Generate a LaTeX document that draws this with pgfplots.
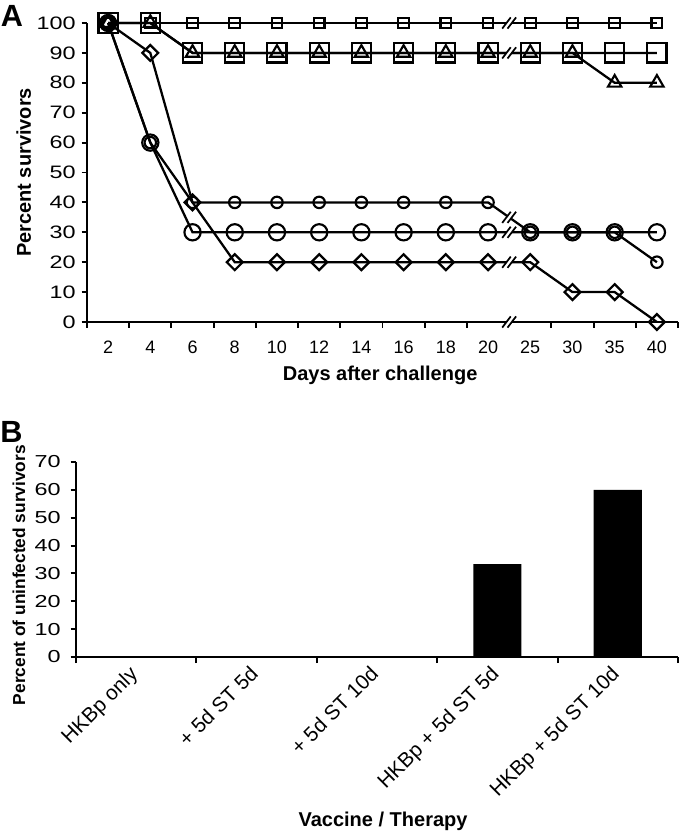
\documentclass[border=0pt]{standalone}
\usepackage{fontspec}
\setmainfont{Liberation Sans}
\usepackage{graphicx}
\usepackage{pgfplots}
\pgfplotsset{compat=1.18}
\usepackage{pgfplotstable}

% survival, days 2..40 at positions 0..13
\pgfplotstableread{
idx S1  S2  S3  S4  S5  S6
0   100 100 100 100 100 100
1   100 100 100 90  60  60
2   100 90  90  40  40  30
3   100 90  90  20  40  30
4   100 90  90  20  40  30
5   100 90  90  20  40  30
6   100 90  90  20  40  30
7   100 90  90  20  40  30
8   100 90  90  20  40  30
9   100 90  90  20  40  30
10  100 90  90  20  30  30
11  100 90  90  10  30  30
12  100 90  80  10  30  30
13  100 90  80  0   20  30
}\survival

\pgfplotstableread{
idx val
0   0
1   0
2   0
3   33.3
4   60
}\uninfected

% axis break "//"
\newcommand{\brk}[2]{%
  \fill[white] ([shift={(-5.2pt,-4.2pt)}]axis cs:#1,#2) -- ([shift={(1.2pt,4.2pt)}]axis cs:#1,#2)
     -- ([shift={(5.2pt,4.2pt)}]axis cs:#1,#2) -- ([shift={(-1.2pt,-4.2pt)}]axis cs:#1,#2) -- cycle;
  \draw[line width=1.3pt] ([shift={(-5.2pt,-4.2pt)}]axis cs:#1,#2) -- ([shift={(1.2pt,4.2pt)}]axis cs:#1,#2);
  \draw[line width=1.3pt] ([shift={(-1.2pt,-4.2pt)}]axis cs:#1,#2) -- ([shift={(5.2pt,4.2pt)}]axis cs:#1,#2);
}

\pgfplotsset{
  /pgf/number format/assume math mode=true,
  every axis/.append style={
    scale only axis, clip=false,
    axis lines*=left,
    axis line style={line width=1.6pt},
    tick align=outside,
    major tick length=4pt, minor tick length=4.5pt,
    every tick/.style={black, line width=1.4pt},
    major x tick style={draw=none},
  },
  ser/.style={black, line width=1.7pt, every mark/.append style={solid, line width=1.6pt}},
}

\begin{document}
\begin{tikzpicture}
\useasboundingbox (0,0) rectangle (510pt,624.75pt);

% ---- A ----
\begin{axis}[
  at={(65.25pt,383.25pt)}, anchor=south west,
  width=443.25pt, height=224.25pt,
  xmin=-0.5, xmax=13.5, ymin=0, ymax=100,
  xtick={0,...,13},
  xticklabels={2,4,6,8,10,12,14,16,18,20,25,30,35,40},
  minor xtick={-0.5,0.5,...,8.5,10.5,11.5,12.5,13.5},
  ytick={0,10,...,100},
  yticklabel={\scalebox{1.3}[1]{\pgfmathprintnumber{\tick}}},
  x tick label style={font=\fontsize{13.5}{16}\selectfont, yshift=-7pt},
  y tick label style={font=\fontsize{13.5}{16}\selectfont, xshift=-1pt},
  xlabel={\bfseries Days after challenge},
  ylabel={\bfseries Percent survivors},
  xlabel style={font=\fontsize{15}{18}\selectfont, at={(axis description cs:0.496,-0.177)}, anchor=center},
  ylabel style={font=\fontsize{15}{18}\selectfont, at={(axis description cs:-0.107,0.5)}, anchor=center},
]
\addplot[ser, mark=square, mark size=4pt] table[x=idx, y=S1] {\survival};
\addplot[ser, mark=square, mark size=7.2pt] table[x=idx, y=S2] {\survival};
\addplot[ser, mark=triangle, mark size=5.8pt] table[x=idx, y=S3] {\survival};
\addplot[ser, mark=square, mark size=4.2pt, mark options={rotate=45}] table[x=idx, y=S4] {\survival};
\addplot[ser, mark=o, mark size=4.3pt] table[x=idx, y=S5] {\survival};
\addplot[ser, mark=o, mark size=6.1pt] table[x=idx, y=S6] {\survival};
\brk{9.5}{100}
\brk{9.5}{90}
\brk{9.5}{35}
\brk{9.5}{30}
\brk{9.5}{20}
\brk{9.5}{0}
\end{axis}

% ---- B ----
\begin{axis}[
  at={(57pt,132pt)}, anchor=south west,
  width=451.5pt, height=146.25pt,
  xmin=-0.5, xmax=4.5, ymin=0, ymax=70,
  xtick={0,...,4},
  xticklabels={HKBp only, + 5d ST 5d, + 5d ST 10d, HKBp + 5d ST 5d, HKBp + 5d ST 10d},
  minor xtick={-0.5,0.5,...,4.5},
  ytick={0,10,...,70},
  yticklabel={\scalebox{1.35}[1]{\pgfmathprintnumber{\tick}}},
  x tick label style={font=\fontsize{15.5}{18}\selectfont, xshift=-6pt, yshift=3pt, rotate=45, anchor=north east},
  y tick label style={font=\fontsize{13}{15}\selectfont, xshift=-4pt},
  xlabel={\bfseries Vaccine / Therapy},
  ylabel={\bfseries Percent of uninfected survivors},
  xlabel style={font=\fontsize{15}{18}\selectfont, at={(axis description cs:0.51,-0.841)}, anchor=center},
  ylabel style={font=\fontsize{13}{15}\selectfont, at={(axis description cs:-0.095,0.42)}, anchor=center},
]
\addplot[ybar, bar width=0.4, fill=black, draw=none] table[x=idx, y=val] {\uninfected};
\end{axis}

\node[font=\bfseries\fontsize{23}{26}\selectfont] at (9pt,612.75pt) {A};
\node[font=\bfseries\fontsize{23}{26}\selectfont] at (8.5pt,300.75pt) {B};
\end{tikzpicture}
\end{document}
